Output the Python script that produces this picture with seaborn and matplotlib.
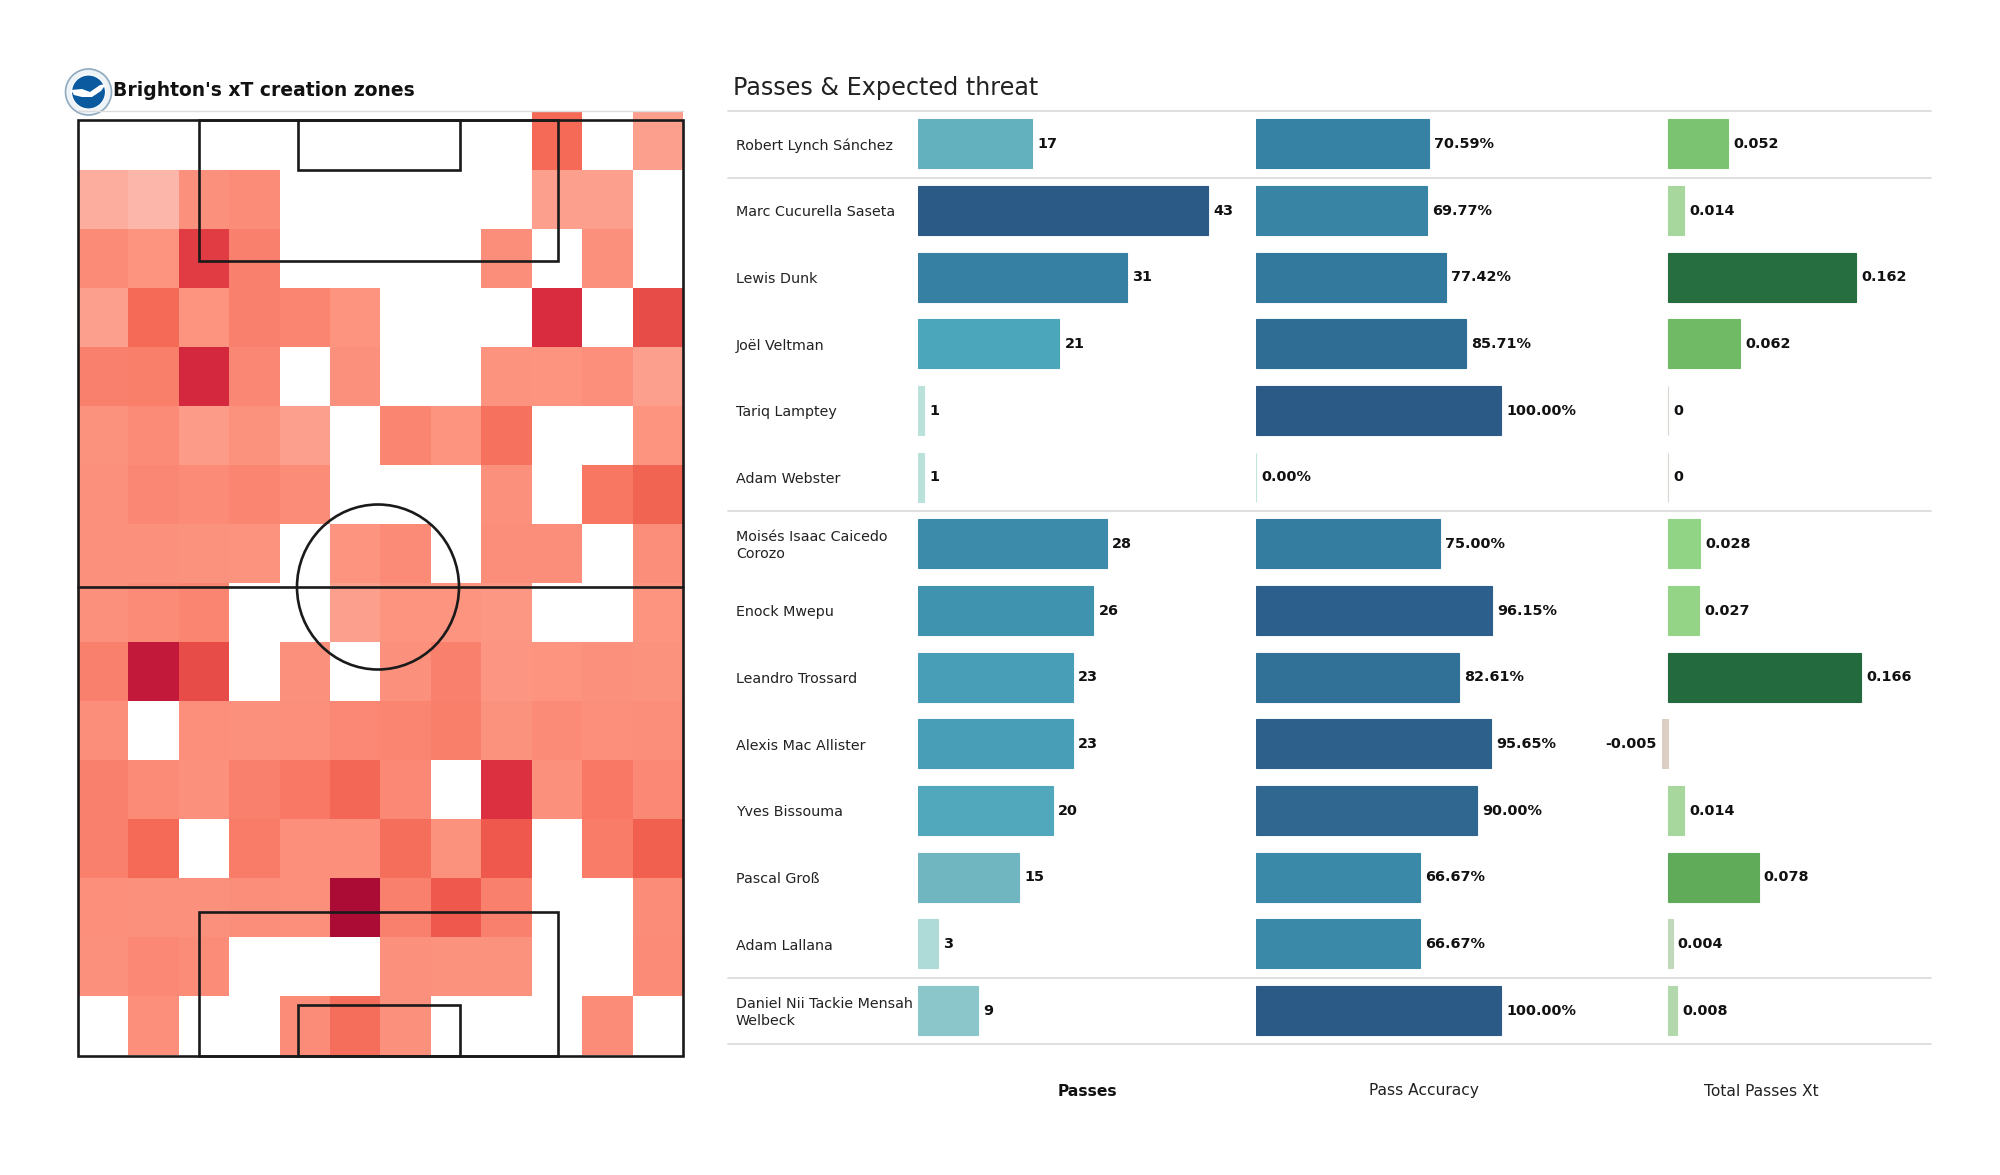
import numpy as np
import pandas as pd
import seaborn as sns
from matplotlib import pyplot as plt
from matplotlib.colors import LinearSegmentedColormap, TwoSlopeNorm
from matplotlib.patches import Circle, Ellipse, Polygon, Rectangle

players = ['Robert Lynch Sánchez', 'Marc Cucurella Saseta', 'Lewis Dunk', 'Joël Veltman',
           'Tariq Lamptey', 'Adam Webster', 'Moisés Isaac Caicedo\nCorozo', 'Enock Mwepu',
           'Leandro Trossard', 'Alexis Mac Allister', 'Yves Bissouma', 'Pascal Groß',
           'Adam Lallana', 'Daniel Nii Tackie Mensah\nWelbeck']
passes = [17, 43, 31, 21, 1, 1, 28, 26, 23, 23, 20, 15, 3, 9]
accuracy = [70.59, 69.77, 77.42, 85.71, 100.0, 0.0, 75.0, 96.15, 82.61, 95.65, 90.0, 66.67, 66.67, 100.0]
total_xt = [0.052, 0.014, 0.162, 0.062, 0, 0, 0.028, 0.027, 0.166, -0.005, 0.014, 0.078, 0.004, 0.008]
xt_labels = ['0.052', '0.014', '0.162', '0.062', '0', '0', '0.028', '0.027', '0.166', '-0.005',
             '0.014', '0.078', '0.004', '0.008']

# Zone values read by eye from the shades, 16 rows by 12 columns, top of the pitch first
n = np.nan
zones = [
    [n, n, n, n, n, n, n, n, n, .55, n, .20],
    [.12, .06, .30, .33, n, n, n, n, n, .20, .20, n],
    [.35, .27, .75, .42, n, n, n, n, .32, n, .30, n],
    [.20, .55, .27, .42, .38, .27, n, n, n, .82, n, .68],
    [.42, .43, .85, .37, n, .30, n, n, .28, .27, .31, .20],
    [.29, .34, .23, .29, .20, n, .38, .27, .50, n, n, .27],
    [.30, .37, .34, .38, .33, n, n, n, .30, n, .48, .58],
    [.30, .30, .29, .28, n, .27, .35, n, .32, .32, n, .32],
    [.30, .35, .38, n, n, .20, .27, .27, .25, n, n, .27],
    [.42, .93, .68, n, .30, n, .30, .42, .26, .27, .30, .29],
    [.32, n, .31, .30, .31, .36, .38, .43, .29, .35, .31, .32],
    [.42, .34, .30, .42, .47, .56, .36, n, .80, .30, .47, .36],
    [.42, .55, n, .45, .31, .31, .53, .29, .63, n, .45, .60],
    [.31, .30, .30, .32, .31, 1.0, .42, .63, .42, n, n, .33],
    [.30, .36, .33, n, n, n, .30, .29, .29, n, n, .34],
    [n, .31, n, n, .33, .53, .30, n, n, n, .33, n],
]

W, H = 2000, 1175
line_grey = '#dcdcdc'

reds = LinearSegmentedColormap.from_list('xt_reds', [
    (0.0, '#fdc0b6'), (0.25, '#fc9783'), (0.45, '#f97c68'), (0.6, '#f1604f'),
    (0.8, '#dc3040'), (0.92, '#c71c3b'), (1.0, '#ab0c36')])
blues = LinearSegmentedColormap.from_list('passes_blues', [
    (0.0, '#bfe5dd'), (0.2, '#8dc8cb'), (0.35, '#6fb6c0'), (0.49, '#4ba5bb'),
    (0.72, '#3580a3'), (1.0, '#2b5a87')])
greens = LinearSegmentedColormap.from_list('xt_greens', [
    (0.0, '#c9a27e'), (0.48, '#dccbbc'), (0.5, '#d9d9d4'), (0.52, '#b8d8b0'), (0.56, '#97d68a'),
    (0.62, '#8bd07e'), (0.7, '#6ab561'), (0.75, '#5ca858'), (1.0, '#236a3e')])


def add_axes_px(left, top, width, height):
    return fig.add_axes([left / W, 1 - (top + height) / H, width / W, height / H])


sns.set_theme(style='white')
plt.rcParams['font.family'] = ['DejaVu Sans']
fig = plt.figure(figsize=(W / 100, H / 100), dpi=100, facecolor='white')

# Heatmap of the zones
ax_heat = add_axes_px(78, 111, 605, 944)
sns.heatmap(np.array(zones), cmap=reds, vmin=0, vmax=1, cbar=False, ax=ax_heat,
            xticklabels=False, yticklabels=False)

# Overlay in pixel units for the pitch markings, rules and free text
ax_px = fig.add_axes([0, 0, 1, 1], zorder=5)
ax_px.set_xlim(0, W)
ax_px.set_ylim(H, 0)
ax_px.axis('off')
ax_px.patch.set_alpha(0)

pitch_lw = 1.9
pitch_col = '#1a1a1a'
ax_px.add_patch(Rectangle((78, 119.5), 605, 936.5, fill=False, ec=pitch_col, lw=pitch_lw))
ax_px.plot([78, 683], [587, 587], color=pitch_col, lw=pitch_lw)
ax_px.add_patch(Ellipse((378, 587), 162, 165, fill=False, ec=pitch_col, lw=pitch_lw))
for x0, x1, depth, depth_low in [(199, 558, 141.5, 144), (297.5, 459.5, 50.5, 51.5)]:
    ax_px.add_patch(Rectangle((x0, 119.5), x1 - x0, depth, fill=False, ec=pitch_col, lw=pitch_lw))
    ax_px.add_patch(Rectangle((x0, 1056 - depth_low), x1 - x0, depth_low, fill=False, ec=pitch_col, lw=pitch_lw))
ax_px.plot([78, 683], [111, 111], color=line_grey, lw=1)

# Club crest, a rough redraw
ax_px.add_patch(Circle((88.5, 92), 23, fc='#eef3f7', ec='#8fa9be', lw=1.2))
ax_px.add_patch(Circle((88.5, 92), 17, fc='#0b5aa0', ec='white', lw=0.8))
ax_px.add_patch(Polygon([(71, 90), (82, 89), (90, 92), (100, 85), (106, 84), (101, 91), (92, 97), (82, 97), (74, 95)],
                        fc='white', ec='none'))

ax_px.text(113, 90.5, "Brighton's xT creation zones", fontsize=13.5, fontweight='bold',
           ha='left', va='center', color='#111111')
ax_px.text(733, 87.5, 'Passes & Expected threat', fontsize=17.2, ha='left', va='center', color='#222222')

for y in [111, 178, 511, 978, 1043.5]:
    ax_px.plot([728, 1931], [y, y], color=line_grey, lw=1.3)

# Bar panels
df = pd.DataFrame({'player': players, 'passes': passes, 'accuracy': accuracy, 'xt': total_xt})
xt_norm = TwoSlopeNorm(vcenter=0, vmin=-0.166, vmax=0.166)
panels = [
    ('passes', 917.5, 311, (0, 46), [blues(v / max(passes)) for v in passes], [str(v) for v in passes], 3.8),
    ('accuracy', 1256, 270, (0, 110), [blues(v / 100) for v in accuracy], [f'{v:.2f}%' for v in accuracy], 3.6),
    ('xt', 1633, 256, (-0.03, 0.19), [greens(xt_norm(v)) for v in total_xt], xt_labels, 3.6),
]

for col, left, width, xlim, colors, labels, pad in panels:
    ax = add_axes_px(left, 110.5, width, 933.5)
    sns.barplot(data=df, y='player', x=col, hue='player', palette=colors, legend=False,
                width=0.735, ax=ax, saturation=1, edgecolor=None, linewidth=0)
    for container, label in zip(ax.containers, labels):
        for bar in container:
            bar.set_edgecolor(bar.get_facecolor())
            bar.set_linewidth(0.8)
        ax.bar_label(container, labels=[label], padding=pad, fontsize=10.4, fontweight='bold', color='#111111')
    ax.set_xlim(*xlim)
    ax.set_ylim(13.5, -0.5)
    ax.axis('off')
    ax.patch.set_alpha(0)

for i, name in enumerate(players):
    ax_px.text(736, 145.5 + 66.7 * i, name, fontsize=10.25, ha='left', va='center', color='#222222',
               linespacing=1.25)

ax_px.text(1087, 1091, 'Passes', fontsize=11.2, fontweight='bold', ha='center', va='center', color='#111111')
ax_px.text(1424, 1091, 'Pass Accuracy', fontsize=11.2, ha='center', va='center', color='#222222')
ax_px.text(1761, 1091, 'Total Passes Xt', fontsize=11.2, ha='center', va='center', color='#222222')

fig.savefig('out.png', dpi=100)
